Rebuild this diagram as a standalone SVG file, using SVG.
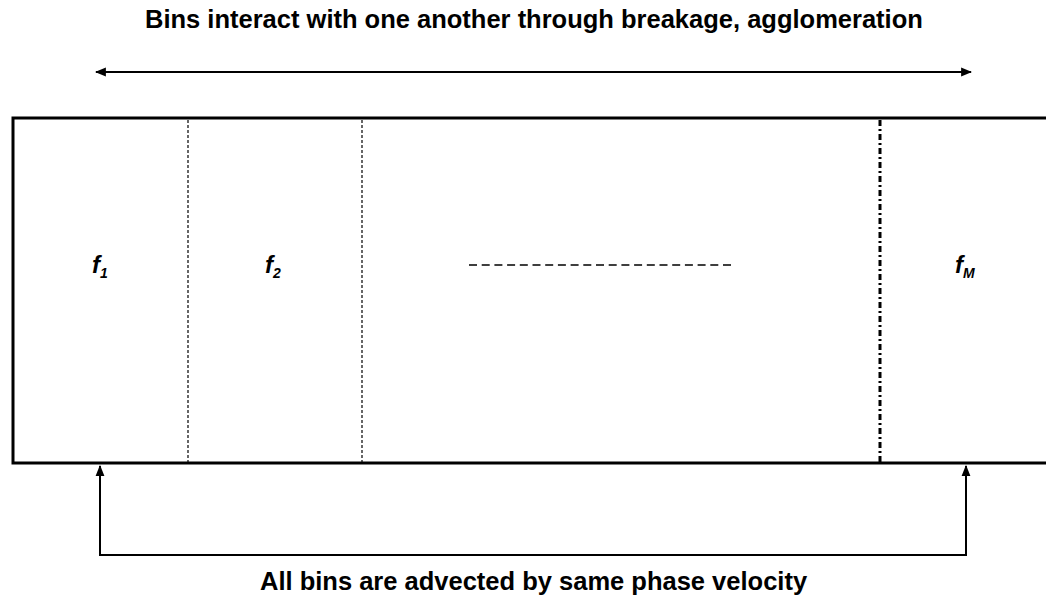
<svg xmlns="http://www.w3.org/2000/svg" width="1046" height="598" viewBox="0 0 1046 598">
<style>
text{font-family:"Liberation Sans",Arial,sans-serif;font-weight:bold;fill:#000}
.lbl{font-size:25.5px}
.f{font-size:24px;font-style:italic}
.sub{font-size:14px}
.conn{stroke:#000;stroke-width:2;fill:none}
</style>
<defs>
<marker id="ah" viewBox="0 0 10 10" refX="9" refY="5" markerWidth="5.5" markerHeight="5.5" orient="auto-start-reverse" markerUnits="strokeWidth">
<path d="M0,1 L10,5 L0,9 Z" fill="#000"/>
</marker>
</defs>
<rect width="1046" height="598" fill="#fff"/>
<text class="lbl" x="145" y="28">Bins interact with one another through breakage, agglomeration</text>
<g id="connectors">
<line class="conn" x1="96" y1="72" x2="971" y2="72" marker-start="url(#ah)" marker-end="url(#ah)"/>
<polyline class="conn" points="100,555 100,466" marker-end="url(#ah)"/>
<polyline class="conn" points="966,555 966,466" marker-end="url(#ah)"/>
<line class="conn" x1="99" y1="555" x2="967" y2="555"/>
</g>
<g id="container">
<path d="M1046,118 H13 V463 H1046" fill="none" stroke="#000" stroke-width="3"/>
<line x1="188" y1="120" x2="188" y2="462" stroke="#000" stroke-width="1.2" stroke-dasharray="3,2"/>
<line x1="362" y1="120" x2="362" y2="462" stroke="#000" stroke-width="1.2" stroke-dasharray="3,2"/>
<line x1="880" y1="120" x2="880" y2="462" stroke="#000" stroke-width="3" stroke-dasharray="6,3,2,3"/>
</g>
<g id="bin1"><text class="f" x="92" y="273">f<tspan class="sub" dy="5">1</tspan></text></g>
<g id="bin2"><text class="f" x="265" y="273">f<tspan class="sub" dy="5">2</tspan></text></g>
<g id="binDots"><line x1="469" y1="265" x2="735" y2="265" stroke="#000" stroke-width="1.5" stroke-dasharray="8,4.7"/></g>
<g id="binM"><text class="f" x="955" y="273">f<tspan class="sub" dy="5">M</tspan></text></g>
<text class="lbl" x="260" y="590">All bins are advected by same phase velocity</text>
</svg>
